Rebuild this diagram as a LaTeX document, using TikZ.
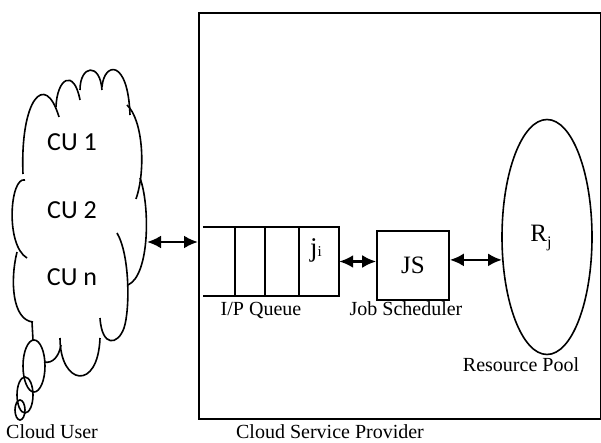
\documentclass[tikz,border=0pt]{standalone}
\usepackage{fontspec}
\setmainfont{Liberation Serif}
\newfontfamily\calibri{Carlito}
\usetikzlibrary{arrows.meta,shapes.geometric}
\begin{document}
\begin{tikzpicture}[x=1pt,y=-1pt,
  biarrow/.style={{Latex[length=14pt,width=13pt]}-{Latex[length=14pt,width=13pt]}, line width=2.6pt},
  ln/.style={line width=1.6pt},
  lbl/.style={font=\fontsize{20}{24}\selectfont, inner sep=0pt, anchor=base},
  cu/.style={font=\calibri\fontsize{26}{30}\selectfont, inner sep=0pt},
  box/.style={draw, ln, inner sep=0pt}
]
\useasboundingbox (0,0) rectangle (601,443);
\fill[white] (0,0) rectangle (601,443);

% container
\node[box, line width=1.8pt, minimum width=402pt, minimum height=406pt, anchor=north west] (csp) at (198,12) {};

% cloud
\begin{scope}[ln]
\draw (23,174) .. controls (20,100) and (45,70) .. (59,117);
\draw (56,107) .. controls (57,78) and (74,68) .. (80,100);
\draw (80,90) .. controls (80,65) and (100,62) .. (102,90);
\draw (102,87) .. controls (104,62) and (128,58) .. (130,115);
\draw (127,105) .. controls (143,120) and (146,170) .. (136,199);
\draw (140,178) .. controls (150,205) and (150,275) .. (128,285);
\draw (117,233) .. controls (130,255) and (130,310) .. (124,328) .. controls (118,345) and (102,348) .. (100,318);
\draw (60,338) .. controls (60,385) and (98,392) .. (100,338);
\draw (44,362) .. controls (53,364) and (59,356) .. (61,345);
\draw (17,252) .. controls (10,280) and (12,320) .. (33,322);
\draw (25,180) .. controls (10,176) and (5,245) .. (27,258);
\draw (32,322) -- (33,340);
\draw (34,366) ellipse [x radius=11pt, y radius=26pt];
\draw (25,395) ellipse [x radius=8pt, y radius=18pt];
\draw (20,410) ellipse [x radius=5pt, y radius=10pt];
\end{scope}
\coordinate (cuR) at (147,242);

\node[cu] (cu1) at (72,142) {CU 1};
\node[cu] (cu2) at (72,210) {CU 2};
\node[cu] (cun) at (72,277) {CU n};

% queue
\node[minimum width=136pt, minimum height=69pt, inner sep=0pt] (q) at (271,261.5) {};
\draw[ln] (q.north west) -- (q.north east) -- (q.south east) -- (q.south west);
\foreach \x in {235,265,299} \draw[ln] (\x,227) -- (\x,296);
\node[font=\fontsize{27}{28}\selectfont, inner sep=0pt, anchor=base] (ji) at (316,256) {j\raisebox{-0.08ex}{\fontsize{15}{15}\selectfont i}};

% job scheduler
\node[box, minimum width=72pt, minimum height=69pt, font=\fontsize{25}{28}\selectfont] (js) at (413,265.5) {JS};

% resource pool
\node[box, ellipse, minimum width=90pt, minimum height=235pt] (rp) at (547,237) {};
\node[font=\fontsize{25}{28}\selectfont, inner sep=0pt, anchor=base] (rj) at (541,242) {R\raisebox{-0.45ex}{\fontsize{16}{16}\selectfont j}};

% arrows
\draw[biarrow] (cuR) -- (cuR -| csp.west);
\draw[biarrow] (q.east) -- (q.east -| js.west);
\draw[biarrow] (js.east |- rp.207.6) -- (rp.207.6);

% labels
\node[lbl] (lq) at (261,315) {I/P Queue};
\node[lbl] (ljs) at (406,315) {Job Scheduler};
\node[lbl] (lrp) at (521,371) {Resource Pool};
\node[lbl] (lcu) at (52,438) {Cloud User};
\node[lbl] (lcsp) at (330,438) {Cloud Service Provider};
\end{tikzpicture}
\end{document}
